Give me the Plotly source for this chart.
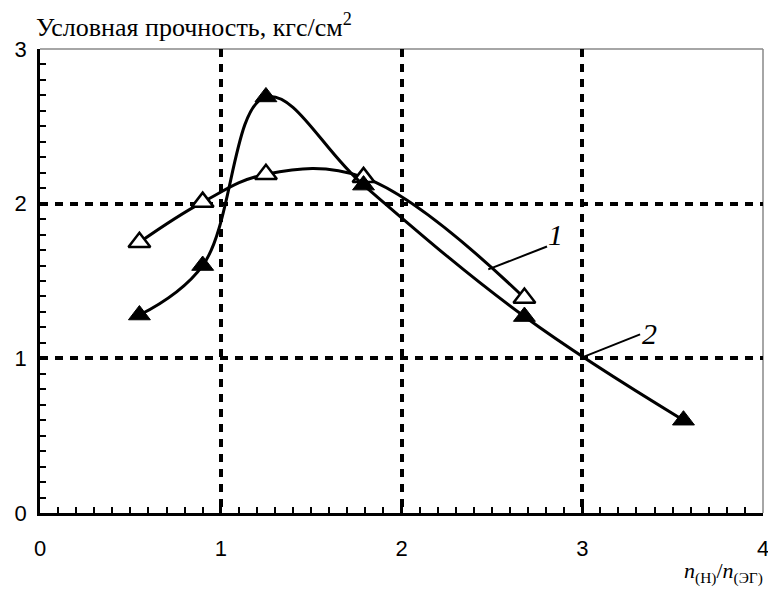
import plotly.graph_objects as go

# Data
x1 = [0.55, 0.90, 1.25, 1.79, 2.68]
y1 = [1.75, 2.01, 2.19, 2.17, 1.39]
x2 = [0.55, 0.90, 1.25, 1.79, 2.68, 3.56]
y2 = [1.28, 1.60, 2.69, 2.12, 1.27, 0.60]
x_ticks = [0, 1, 2, 3, 4]
y_ticks = [0, 1, 2, 3]

fig = go.Figure()

fig.add_trace(go.Scatter(
    x=x1, y=y1, mode="lines+markers",
    line=dict(color="black", width=3, shape="spline", smoothing=1.1),
    marker=dict(symbol="triangle-up", size=19, color="white",
                line=dict(color="black", width=2.5)),
    showlegend=False, name="1"))

fig.add_trace(go.Scatter(
    x=x2, y=y2, mode="lines+markers",
    line=dict(color="black", width=3, shape="spline", smoothing=1.1),
    marker=dict(symbol="triangle-up", size=19, color="black",
                line=dict(color="black", width=1)),
    showlegend=False, name="2"))

# leader lines for curve labels
fig.add_shape(type="line", x0=2.48, y0=1.575, x1=2.805, y1=1.723,
              line=dict(color="black", width=2))
fig.add_shape(type="line", x0=3.0, y0=1.006, x1=3.32, y1=1.155,
              line=dict(color="black", width=2))
# gray frame top/right
fig.add_shape(type="line", xref="paper", yref="paper", x0=0, y0=1, x1=1, y1=1,
              line=dict(color="#888", width=1.5), layer="below")
fig.add_shape(type="line", xref="paper", yref="paper", x0=1, y0=0, x1=1, y1=1,
              line=dict(color="#888", width=1.5), layer="below")

serif = "Liberation Serif"
fig.add_annotation(x=2.85, y=1.80, text="<i>1</i>", showarrow=False,
                   font=dict(family=serif, size=30, color="black"))
fig.add_annotation(x=3.37, y=1.16, text="<i>2</i>", showarrow=False,
                   font=dict(family=serif, size=30, color="black"))

fig.add_annotation(xref="paper", yref="paper", x=0, y=1, xanchor="left", yanchor="bottom",
                   yshift=5, xshift=-6,
                   text="Условная прочность, кгс/см<sup>2</sup>", showarrow=False,
                   font=dict(family=serif, size=26, color="black"))
fig.add_annotation(xref="paper", yref="paper", x=1, y=0, xanchor="right", yanchor="bottom",
                   yshift=-76, xshift=2,
                   text="<i>n</i><sub>(Н)</sub>/<i>n</i><sub>(ЭГ)</sub>", showarrow=False,
                   font=dict(family=serif, size=22, color="black"))

axis_common = dict(
    showline=True, linecolor="black", linewidth=2.5,
    showgrid=True, gridcolor="black", gridwidth=3.5, griddash="8px,7px",
    zeroline=False, ticks="inside", ticklen=8, tickwidth=2.5, tickcolor="black",
    tickfont=dict(family="Liberation Sans", size=22, color="black"),
    automargin=False,
)

fig.update_xaxes(range=[0, 4], tickvals=x_ticks, ticktext=[str(v) for v in x_ticks],
                 minor=dict(dtick=0.1, ticks="inside", ticklen=6, tickwidth=2,
                            tickcolor="black", showgrid=False),
                 ticklabelstandoff=14,
                 **axis_common)
fig.update_yaxes(range=[0, 3], tickvals=y_ticks, ticktext=[str(v) for v in y_ticks],
                 minor=dict(dtick=0.1, ticks="inside", ticklen=6, tickwidth=2,
                            tickcolor="black", showgrid=False),
                 ticklabelstandoff=6,
                 **axis_common)

# page body has an 8px margin, so the figure is shrunk by that offset
fig.update_layout(
    width=768, height=581,
    margin=dict(l=32, r=13, t=41, b=76),
    plot_bgcolor="white", paper_bgcolor="white",
)

fig.write_html("out.html")
